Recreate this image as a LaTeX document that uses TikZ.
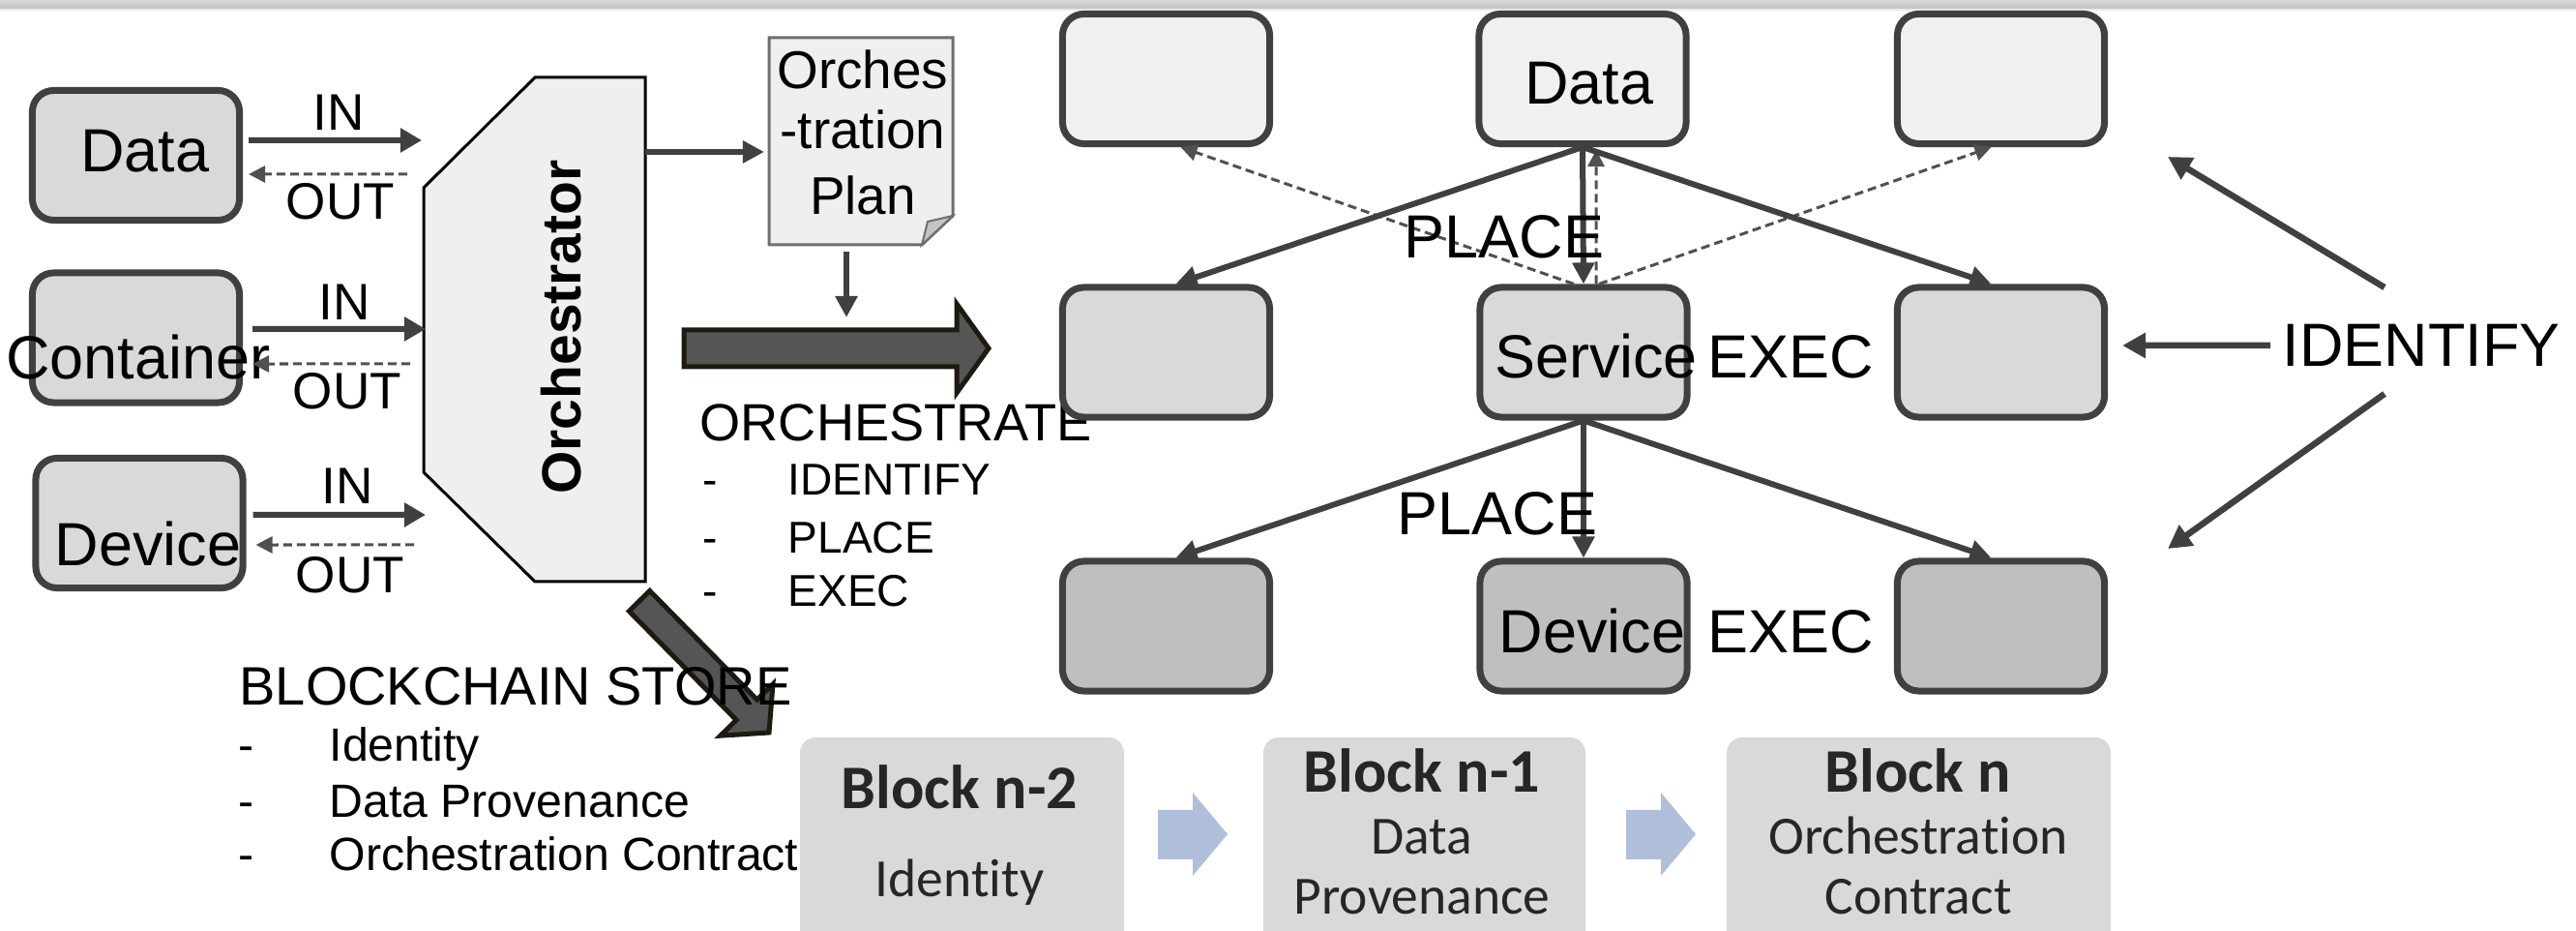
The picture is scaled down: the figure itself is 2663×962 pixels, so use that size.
\documentclass[tikz,border=0pt]{standalone}
\usepackage{fontspec}
\setmainfont{Liberation Sans}
\newfontfamily\blockfont[Ligatures=NoCommon]{Carlito}
\usetikzlibrary{arrows.meta}

\definecolor{edgegray}{HTML}{404040}
\definecolor{dashgray}{HTML}{505050}
\definecolor{fillA}{HTML}{F0F0F0}
\definecolor{fillB}{HTML}{D9D9D9}
\definecolor{fillC}{HTML}{BFBFBF}
\definecolor{orchfill}{HTML}{EFEFEF}
\definecolor{planedge}{HTML}{6E6E6E}
\definecolor{foldfill}{HTML}{C4C4C4}
\definecolor{fatfill}{HTML}{555555}
\definecolor{fatedge}{HTML}{1E1A10}
\definecolor{blockfill}{HTML}{D9D9D9}
\definecolor{chainblue}{HTML}{B0BFD9}
\definecolor{bandtop}{HTML}{D9D6D9}
\definecolor{bandbot}{HTML}{C2C2C2}

\newcommand\fsz[1]{\fontsize{#1}{#1}\selectfont}

\begin{document}
\begin{tikzpicture}[x=0.01cm,y=-0.01cm,
  rbox/.style={draw=edgegray, line width=0.07cm, rounded corners=0.22cm,
    minimum width=2.14cm, minimum height=1.34cm, inner sep=0pt},
  flow/.style={draw=edgegray, line width=0.06cm,
    -{Triangle[length=0.22cm,width=0.22cm]}},
  inflow/.style={draw=edgegray, line width=0.06cm,
    -{Triangle[length=0.22cm,width=0.24cm]}},
  backflow/.style={draw=dashgray, line width=0.03cm,
    dash pattern=on 0.09cm off 0.05cm,
    -{Triangle[length=0.17cm,width=0.17cm]}},
  bigtxt/.style={inner sep=0pt, anchor=base, font=\fsz{17.9pt}},
  iotxt/.style={inner sep=0pt, anchor=base, font=\fsz{15.1pt}},
  headtxt/.style={inner sep=0pt, anchor=base west, font=\fsz{15.6pt}},
  itemtxt/.style={inner sep=0pt, anchor=base west, font=\fsz{13.1pt}},
  storetxt/.style={inner sep=0pt, anchor=base west, font=\fsz{13.7pt}},
  blocktitle/.style={inner sep=0pt, anchor=base, font=\blockfont\bfseries\fsz{18.2pt}, text=black!85},
  blocktxt/.style={inner sep=0pt, anchor=base, font=\blockfont\fsz{15.8pt}, text=black!85},
  fatarrow/.style={fill=fatfill, draw=fatedge, line width=0.05cm, line join=miter},
  chainarrow/.style={fill=chainblue, draw=none}
]
\clip (0,0) rectangle (2663,962);
\fill[white] (0,0) rectangle (2663,962);

% window band along the top edge
\shade[top color=bandtop, bottom color=bandbot] (0,0) rectangle (2663,9);
\fill[black!8] (0,9) rectangle (2663,11);

% ---------- sources ----------
\node[rbox, fill=fillB] (srcData) at (140.5,160.5) {};
\node[rbox, fill=fillB] (srcCont) at (140.5,349) {};
\node[rbox, fill=fillB] (srcDev)  at (144,540.5) {};
\node[bigtxt] at (150,178) {Data};
\node[bigtxt] at (143,392) {Container};
\node[bigtxt] at (153,585) {Device};

% ---------- orchestrator ----------
\draw[line width=0.03cm, fill=orchfill, line join=miter]
  (553,80) -- (667,80) -- (667,601) -- (553,601) -- (438,488) -- (438,194) -- cycle;
\node[rotate=90, inner sep=0pt, font=\bfseries\fsz{16.2pt}] (orch) at (580,338) {Orchestrator};

\coordinate (orchIn1) at (436,145);
\coordinate (orchOut1) at (421,180);
\coordinate (orchIn2) at (440,340);
\coordinate (orchOut2) at (424,376);
\coordinate (orchIn3) at (440,532);
\coordinate (orchOut3) at (428,563);

\draw[inflow]   ([yshift=0.155cm]srcData.east)  ++(6,0) -- (orchIn1);
\draw[backflow] (orchOut1) -- ([yshift=-0.195cm,xshift=0.06cm]srcData.east);
\draw[inflow]   ([yshift=0.09cm]srcCont.east) ++(10,0) -- (orchIn2);
\draw[backflow] (orchOut2) -- ([yshift=-0.27cm,xshift=0.10cm]srcCont.east);
\draw[inflow]   ([yshift=0.085cm]srcDev.east) ++(7,0) -- (orchIn3);
\draw[backflow] (orchOut3) -- ([yshift=-0.225cm,xshift=0.10cm]srcDev.east);

\node[iotxt] at (350,135) {IN};
\node[iotxt] at (352,227) {OUT};
\node[iotxt] at (356,331) {IN};
\node[iotxt] at (359,423) {OUT};
\node[iotxt] at (359,521) {IN};
\node[iotxt] at (362,613) {OUT};

% ---------- orchestration plan ----------
\draw[draw=planedge, line width=0.03cm, fill=orchfill, line join=miter]
  (795,39) -- (985,39) -- (985,223) -- (953,253) -- (795,253) -- cycle;
\draw[draw=planedge, line width=0.02cm, fill=foldfill, line join=miter]
  (985,223) -- (953,253) -- (959,229) -- cycle;
\node[bigtxt, font=\fsz{15.6pt}] (plan) at (892,92) {Orches};
\node[bigtxt, font=\fsz{15.6pt}] at (892,154) {-tration};
\node[bigtxt, font=\fsz{15.6pt}] at (892,222) {Plan};

\coordinate (orchE) at (667,157);
\coordinate (planW) at (790,157);
\coordinate (planS) at (875,260);
\coordinate (planDrop) at (875,328);
\draw[flow] (orchE) -- (planW);
\draw[flow] (planS) -- (planDrop);

% ---------- orchestrate arrow ----------
\draw[fatarrow] (707,341) -- (989,341) -- (989,314) -- (1022,360) -- (989,406)
  -- (989,379) -- (707,379) -- cycle;
\node[headtxt, font=\fsz{15.4pt}] at (723,456) {ORCHESTRATE};
\node[itemtxt] at (726,512) {-};
\node[itemtxt] at (814,512) {IDENTIFY};
\node[itemtxt] at (726,572) {-};
\node[itemtxt] at (814,572) {PLACE};
\node[itemtxt] at (726,627) {-};
\node[itemtxt] at (814,627) {EXEC};

% ---------- store arrow ----------
\draw[fatarrow] (671.7,610.5) -- (782.6,723.0) -- (799.0,706.8) -- (795.0,757.0)
  -- (744.8,760.2) -- (761.2,744.0) -- (650.3,631.5) -- cycle;
\node[headtxt, font=\fsz{15.9pt}] at (247,729) {BLOCKCHAIN STORE};
\node[storetxt] at (246,787) {-};
\node[storetxt] at (340,787) {Identity};
\node[storetxt] at (246,845) {-};
\node[storetxt] at (340,845) {Data Provenance};
\node[storetxt] at (246,900) {-};
\node[storetxt] at (340,900) {Orchestration Contract};

% ---------- placement grid ----------
\node[rbox, fill=fillA] (g11) at (1205.5,81.5) {};
\node[rbox, fill=fillA] (g12) at (1636,81.5) {};
\node[rbox, fill=fillA] (g13) at (2068.5,81.5) {};
\node[rbox, fill=fillB] (g21) at (1205.5,364) {};
\node[rbox, fill=fillB] (g22) at (1637,364) {};
\node[rbox, fill=fillB] (g23) at (2068.5,364) {};
\node[rbox, fill=fillC] (g31) at (1205.5,647) {};
\node[rbox, fill=fillC] (g32) at (1637,647) {};
\node[rbox, fill=fillC] (g33) at (2068.5,647) {};

% dashed returns towards the upper row
\draw[backflow] ([xshift=-0.1cm]g22.north) -- ([xshift=0.15cm]g11.south);
\draw[backflow] ([xshift=0.16cm]g22.north) -- ([xshift=-0.1cm]g13.south);
\draw[backflow] ([xshift=0.13cm]g22.north) -- ([xshift=0.14cm,yshift=-0.03cm]g12.south);

% placement from the data node
\draw[flow] (g12.south) -- ([xshift=0.1cm]g21.north);
\draw[flow] (g12.south) -- ([xshift=-0.1cm]g23.north);
\draw[flow] (g12.south) -- (g22.north);

% placement from the service node
\draw[flow] (g22.south) -- ([xshift=0.1cm]g31.north);
\draw[flow] (g22.south) -- ([xshift=-0.1cm]g33.north);
\draw[flow] (g22.south) -- (g32.north);

\node[bigtxt] at (1643,108) {Data};
\node[bigtxt] at (1650,391) {Service};
\node[bigtxt] at (1646,675) {Device};
\node[bigtxt, anchor=base west] at (1765,391) {EXEC};
\node[bigtxt, anchor=base west] at (1765,675) {EXEC};
\node[bigtxt] at (1555,267) {PLACE};
\node[bigtxt] at (1548,553) {PLACE};

% identification
\node[bigtxt, anchor=base west] (ident) at (2359,379) {IDENTIFY};
\coordinate (idUp) at (2465,297);
\coordinate (idMid) at (2347,357);
\coordinate (idLow) at (2465,407);
\coordinate (idUpTip) at (2241,162);
\coordinate (idLowTip) at (2241,567);
\draw[flow, line width=0.065cm, -{Triangle[length=0.24cm,width=0.25cm]}] (idUp) -- (idUpTip);
\draw[flow, line width=0.065cm, -{Triangle[length=0.24cm,width=0.25cm]}] (idMid) -- ([xshift=0.15cm,yshift=0.07cm]g23.east);
\draw[flow, line width=0.065cm, -{Triangle[length=0.24cm,width=0.25cm]}] (idLow) -- (idLowTip);

% ---------- chain of blocks ----------
\fill[blockfill, rounded corners=0.16cm] (827,762) rectangle (1162,1000);
\fill[blockfill, rounded corners=0.16cm] (1306,762) rectangle (1639,1000);
\fill[blockfill, rounded corners=0.16cm] (1785,762) rectangle (2182,1000);

\node[blocktitle] (blk2) at (992,836) {Block n-2};
\node[blocktxt] at (992,927) {Identity};
\node[blocktitle] (blk1) at (1470,819) {Block n-1};
\node[blocktxt] at (1470,883) {Data};
\node[blocktxt] at (1470,945) {Provenance};
\node[blocktitle] (blk0) at (1983,819) {Block n};
\node[blocktxt] at (1983,883) {Orchestration};
\node[blocktxt] at (1983,945) {Contract};

\fill[chainarrow] (1197,837) -- (1233,837) -- (1233,819) -- (1269,862) -- (1233,905)
  -- (1233,888) -- (1197,888) -- cycle;
\fill[chainarrow] (1681,837) -- (1717,837) -- (1717,819) -- (1753,862) -- (1717,905)
  -- (1717,888) -- (1681,888) -- cycle;
\end{tikzpicture}
\end{document}
